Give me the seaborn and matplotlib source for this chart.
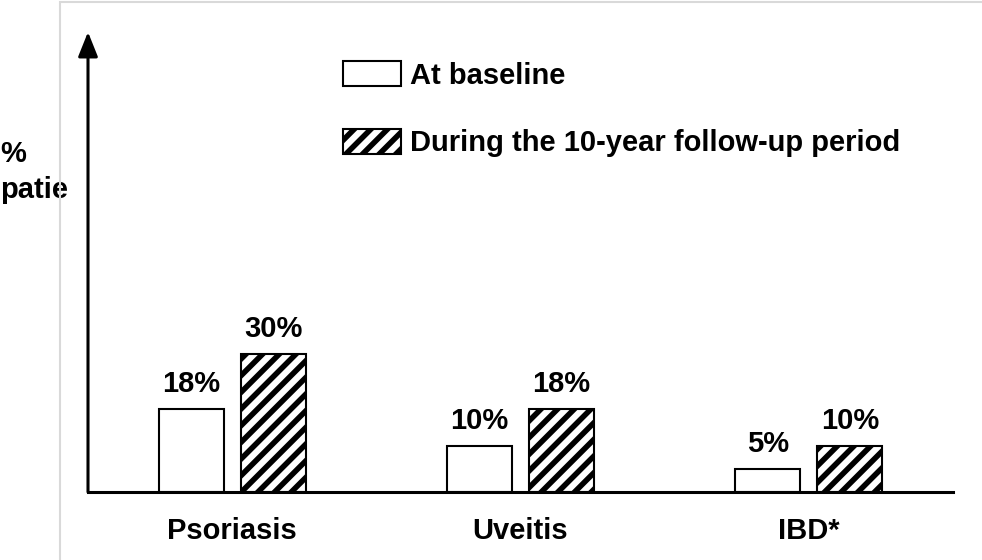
import matplotlib
matplotlib.use("Agg")
import matplotlib.pyplot as plt
from matplotlib.patches import Rectangle
import seaborn as sns
import pandas as pd

# Chart data
categories = ['Psoriasis', 'Uveitis', 'IBD*']
periods = ['At baseline', 'During the 10-year follow-up period']
baseline = [18, 10, 5]
followup = [30, 18, 10]

df = pd.DataFrame({
    'condition': categories * 2,
    'period': [periods[0]] * 3 + [periods[1]] * 3,
    'pct': baseline + followup,
})

sns.set_style('white')
plt.rcParams['font.family'] = ['Liberation Sans', 'DejaVu Sans']
plt.rcParams['font.weight'] = 'bold'
plt.rcParams['text.color'] = 'black'
plt.rcParams['xtick.color'] = 'black'
plt.rcParams['axes.labelcolor'] = 'black'
plt.rcParams['hatch.linewidth'] = 4.0
plt.rcParams['hatch.color'] = 'black'

fs = 21

fig = plt.figure(figsize=(9.82, 5.6), dpi=100)
ax = fig.add_axes([88 / 982, 68 / 560, 865 / 982, 460 / 560])

sns.barplot(data=df, x='condition', y='pct', hue='period', hue_order=periods,
            order=categories, palette=['white', 'white'], saturation=1,
            edgecolor='black', linewidth=1.5, width=0.568, gap=0.207,
            errorbar=None, legend=False, ax=ax)

# hatch the follow-up bars
for bar in ax.containers[1]:
    bar.set_hatch('//')
    if hasattr(bar, 'set_hatch_linewidth'):
        bar.set_hatch_linewidth(4.0)

for cont in ax.containers:
    ax.bar_label(cont, fmt='{:g}%', padding=7.8, fontsize=fs, fontweight='bold',
                 color='black')

ax.set_xlim(-0.5, 2.5)
ax.set_ylim(0, 100)
ax.set_yticks([])
ax.set_xlabel('')
ax.tick_params(axis='x', length=0, pad=18, labelsize=fs, labelcolor='black')
for lab in ax.get_xticklabels():
    lab.set_fontweight('bold')

for s in ['top', 'right', 'left']:
    ax.spines[s].set_visible(False)
ax.spines['bottom'].set_linewidth(2.2)
ax.spines['bottom'].set_color('black')

# y axis drawn as an arrow
ax.annotate('', xy=(0, 1), xytext=(0, 0), xycoords='axes fraction',
            arrowprops=dict(arrowstyle='-|>,head_length=0.75,head_width=0.3',
                            mutation_scale=20, lw=2.2, color='black',
                            shrinkA=0, shrinkB=0))

ax.set_ylabel('%\npatie', rotation=0, fontsize=fs, fontweight='bold',
              ha='left', va='center', multialignment='left', linespacing=1.4)
ax.yaxis.set_label_coords(-88 / 865, (492 - 172) / 460)

leg = ax.legend(handles=[ax.containers[0], ax.containers[1]], labels=periods,
                loc='upper left', bbox_to_anchor=(343 / 982, (560 - 61) / 560),
                bbox_transform=fig.transFigure, frameon=False,
                prop={'size': fs, 'weight': 'bold'}, borderpad=0, borderaxespad=0,
                handlelength=1.99, handleheight=0.95, handletextpad=0.3,
                labelspacing=1.34)
for h in leg.legend_handles:
    if hasattr(h, 'set_hatch_linewidth') and h.get_hatch():
        h.set_hatch_linewidth(4.0)

# light grey frame around the chart area
fig.add_artist(Rectangle((60 / 982, -0.05), 1.0, (558 / 560) + 0.05,
                         transform=fig.transFigure, fill=False,
                         edgecolor='#d9d9d9', lw=1.5, zorder=0.5))

fig.savefig('out.png', dpi=100)
